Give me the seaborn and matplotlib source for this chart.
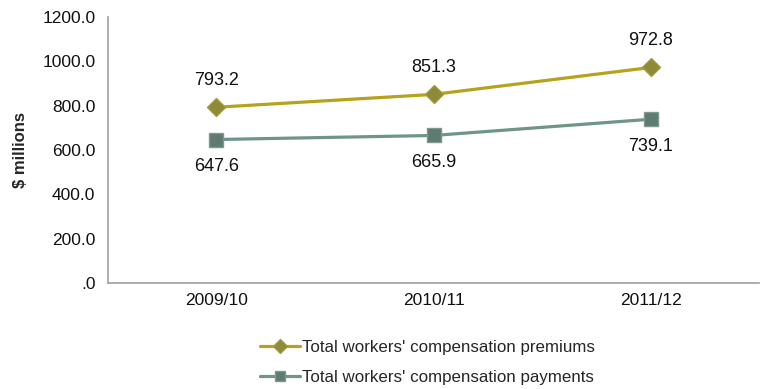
import matplotlib
matplotlib.use("Agg")
import matplotlib.pyplot as plt
import matplotlib.ticker as mticker
import pandas as pd
import seaborn as sns

years = ["2009/10", "2010/11", "2011/12"]
premiums = [793.2, 851.3, 972.8]
payments = [647.6, 665.9, 739.1]
series_names = ["Total workers' compensation premiums",
                "Total workers' compensation payments"]

sns.set_style("white")
plt.rcParams["font.family"] = ["Liberation Sans", "DejaVu Sans"]

df = pd.DataFrame({
    "year": years * 2,
    "value": premiums + payments,
    "series": [series_names[0]] * 3 + [series_names[1]] * 3,
})

fig = plt.figure(figsize=(7.6, 3.89), dpi=100)
ax = fig.add_axes([0.142, 0.2725, 0.857, 0.6835])

line_colors = {series_names[0]: "#B5A31C", series_names[1]: "#6F9585"}
marker_face = {series_names[0]: "#8E8A36", series_names[1]: "#5E7A72"}
marker_edge = {series_names[0]: "#A09A40", series_names[1]: "#7C9A90"}
marker_shape = {series_names[0]: "D", series_names[1]: "s"}

for name in series_names:
    sub = df[df["series"] == name]
    sns.lineplot(data=sub, x="year", y="value", ax=ax, color=line_colors[name],
                 linewidth=2.3, marker=marker_shape[name], markersize=9.5,
                 markerfacecolor=marker_face[name],
                 markeredgecolor=marker_edge[name], markeredgewidth=1.0,
                 label=name, sort=False)

# value labels: premiums above, payments below
for i, v in enumerate(premiums):
    ax.annotate(f"{v:.1f}", (i, v), xytext=(0, 19.5), textcoords="offset points",
                ha="center", va="center", fontsize=13, color="#111111")
for i, v in enumerate(payments):
    ax.annotate(f"{v:.1f}", (i, v), xytext=(0, -19.5), textcoords="offset points",
                ha="center", va="center", fontsize=13, color="#111111")

ax.set_xlim(-0.5, 2.5)
ax.set_ylim(0, 1200)
ax.set_yticks([0, 200, 400, 600, 800, 1000, 1200])
ax.yaxis.set_major_formatter(
    mticker.FuncFormatter(lambda v, p: ".0" if v == 0 else f"{v:.1f}"))

ax.set_xticks([0, 1, 2])
ax.set_xticklabels(years)
ax.set_xticks([-0.5, 0.5, 1.5, 2.5], minor=True)
ax.tick_params(axis="x", which="major", length=0, pad=7, labelsize=12.5,
               colors="#111111")
ax.tick_params(axis="x", which="minor", length=5, width=1, color="#A0A0A0",
               direction="out")
ax.tick_params(axis="y", which="major", length=5, width=1, color="#A0A0A0",
               direction="out", pad=4, labelsize=12.5, labelcolor="#111111")

for side in ["top", "right"]:
    ax.spines[side].set_visible(False)
for side in ["left", "bottom"]:
    ax.spines[side].set_color("#A0A0A0")
    ax.spines[side].set_linewidth(1.2)

ax.set_xlabel("")
ax.set_ylabel("$ millions", fontsize=12, fontweight="bold", labelpad=10)

ax.get_legend().remove()
handles, labels = ax.get_legend_handles_labels()
fig.legend(handles, labels, loc="center", bbox_to_anchor=(0.562, 0.068),
           frameon=False, fontsize=12.2, handlelength=2.4, handletextpad=0.1,
           labelspacing=0.85, markerscale=0.75)

fig.savefig("out.png", dpi=100)
